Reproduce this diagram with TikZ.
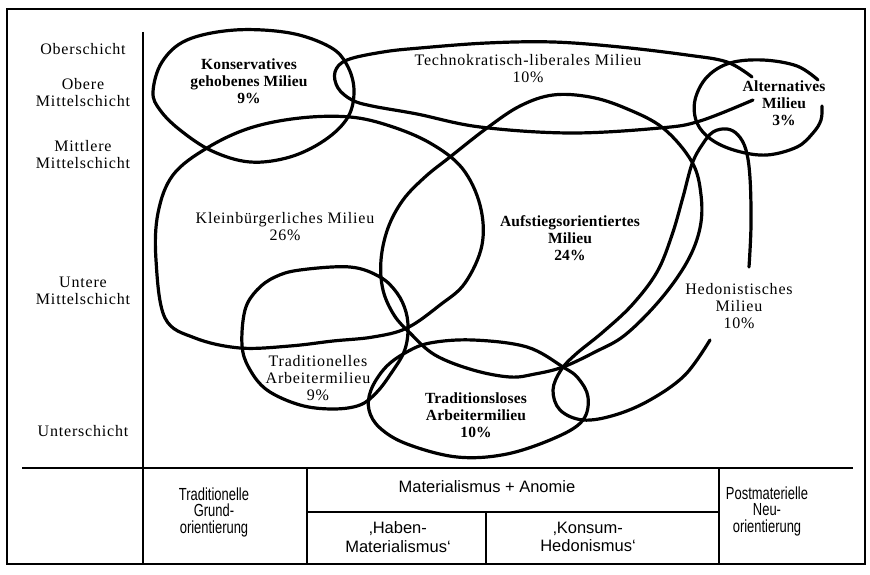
\documentclass[tikz,border=0pt]{standalone}
\usepackage{fontspec}
\setmainfont{Liberation Serif}
\newfontfamily\labfont[LetterSpace=5]{Liberation Serif}
\newfontfamily\blabfont[LetterSpace=1]{Liberation Serif}
\newfontfamily\tabnarrow[FakeStretch=0.74]{Liberation Sans}
\newfontfamily\tabwide{Liberation Sans}
\begin{document}
\begin{tikzpicture}[x=1bp,y=-1bp,
  milieu/.style={line width=3.2bp, line join=round, line cap=round},
  rule/.style={line width=2bp},
  rlab/.style={align=center, inner sep=0pt, font=\labfont\fontsize{16bp}{17bp}\selectfont},
  blab/.style={align=center, inner sep=0pt, font=\blabfont\bfseries\fontsize{15.5bp}{17bp}\selectfont},
  tabn/.style={align=center, inner sep=0pt, font=\tabnarrow\fontsize{17.5bp}{16.5bp}\selectfont},
  tabw/.style={align=center, inner sep=0pt, font=\tabwide\fontsize{16.5bp}{18.5bp}\selectfont}]
\useasboundingbox (0,0) rectangle (870,575);
% frame and axes
\draw[rule] (7,9) rectangle (865,564);
\draw[line width=2.4bp] (143,32) -- (143,564);
\draw[rule] (22,468) -- (853,468);
\draw[rule] (307,468) -- (307,564);
\draw[rule] (719,468) -- (719,564);
\draw[rule] (307,512) -- (719,512);
\draw[rule] (486,512) -- (486,564);
% axis labels
\node[rlab] (ober) at (83,49) {Oberschicht};
\node[rlab] (omit) at (83,93) {Obere\\Mittelschicht};
\node[rlab] (mmit) at (83,155) {Mittlere\\Mittelschicht};
\node[rlab] (umit) at (83,291) {Untere\\Mittelschicht};
\node[rlab] (unter) at (83,431) {Unterschicht};
% milieu curves
% Konservatives
\draw[milieu] plot[smooth cycle, tension=0.6] coordinates {(153,92) (162,62) (187,40) (235,30) (290,33) (330,47) (347,65) (354,90) (348,117) (325,140) (290,157) (250,162) (212,151) (180,130) (160,110)};
% Technokratisch-liberal (open)
\draw[milieu] plot[smooth, tension=0.6] coordinates {(752,77) (727,62) (687,55) (620,47) (553,42) (487,43) (420,48) (383,52) (347,60) (335,72) (338,88) (352,100) (372,106) (417,114) (480,127) (570,133) (660,128) (700,121) (753,100)};
% Alternatives (open)
\draw[milieu] plot[smooth, tension=0.6] coordinates {(818,80) (797,66) (763,60) (730,63) (707,77) (695,100) (697,123) (712,140) (737,151) (767,155) (797,147) (813,133) (821,120) (822,106)};
% Kleinbuergerliches
\draw[milieu] plot[smooth cycle, tension=0.6] coordinates {(156,260) (158,213) (173,175) (207,148) (250,128) (300,118) (350,117) (390,126) (430,143) (462,168) (480,205) (482,245) (465,283) (440,305) (407,328) (373,337) (333,341) (290,346) (240,348) (195,338) (165,318)};
% Aufstiegsorientiertes
\draw[milieu] plot[smooth cycle, tension=0.6] coordinates {(553,95) (590,97) (625,108) (663,128) (692,162) (701,195) (700,228) (687,262) (660,300) (625,335) (595,352) (563,367) (535,374) (510,377) (473,370) (435,355) (410,333) (394,315) (383,290) (381,260) (388,228) (403,200) (425,177) (450,157) (487,128) (520,106)};
% Hedonistisches (open)
\draw[milieu] plot[smooth, tension=0.6] coordinates {(749,267) (751,225) (750,178) (746,150) (738,135) (727,129) (713,132) (702,145) (692,164) (683,197) (672,235) (657,272) (632,305) (603,332) (576,354) (561,370) (553,390) (560,410) (583,420) (615,415) (650,400) (685,375) (710,340)};
% Traditionelles Arbeitermilieu
\draw[milieu] plot[smooth cycle, tension=0.6] coordinates {(300,270) (350,267) (380,277) (397,293) (406,312) (408,332) (404,352) (392,372) (377,392) (360,405) (333,409) (300,405) (267,390) (249,368) (242,345) (245,310) (257,290) (275,277)};
% Traditionsloses Arbeitermilieu
\draw[milieu] plot[smooth cycle, tension=0.6] coordinates {(563,367) (527,347) (473,340) (430,343) (405,353) (385,368) (371,390) (369,410) (380,428) (407,444) (457,457) (507,454) (557,437) (583,420) (588,397) (578,378)};
% milieu labels
\node[blab] (kons) at (249,81) {Konservatives\\gehobenes Milieu\\9\%};
\node[rlab] (tech) at (528,69) {Technokratisch-liberales Milieu\\10\%};
\node[blab] (alt) at (784,103) {Alternatives\\Milieu\\3\%};
\node[rlab] (klein) at (285,227) {Kleinbürgerliches Milieu\\26\%};
\node[blab] (auf) at (570,238) {Aufstiegsorientiertes\\Milieu\\24\%};
\node[rlab] (hedo) at (739,306) {Hedonistisches\\Milieu\\10\%};
\node[rlab] (tradi) at (318,378) {Traditionelles\\Arbeitermilieu\\9\%};
\node[blab] (tlos) at (476,415) {Traditionsloses\\Arbeitermilieu\\10\%};
% table texts
\node[tabn] (trad) at (214,512) {Traditionelle\\Grund-\\orientierung};
\node[tabw] (matan) at (487,487) {Materialismus + Anomie};
\node[tabw] (haben) at (398,537) {‚Haben-\\Materialismus‘};
\node[tabw] (konsum) at (588,537) {‚Konsum-\\Hedonismus‘};
\node[tabn] (postm) at (767,511) {Postmaterielle\\Neu-\\orientierung};
\end{tikzpicture}
\end{document}
